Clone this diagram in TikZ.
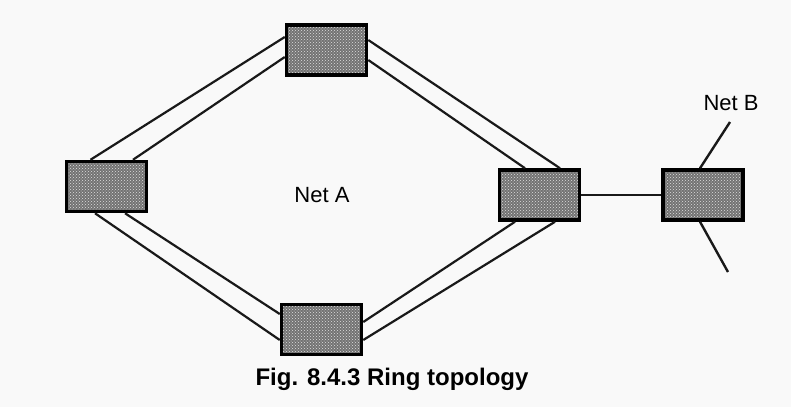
\documentclass[tikz,border=0pt]{standalone}
\usepackage{fontspec}
\setmainfont{Liberation Sans}
\usepackage{tikz}
\usetikzlibrary{positioning, patterns}

\begin{document}
\begin{tikzpicture}[
			x=1pt, y=-1pt,
			node distance=0.5cm and 0.5cm,
			netbox/.style={rectangle, draw=black, line width=3.5pt, minimum width=80pt, minimum height=50pt, inner sep=0pt, preaction={fill=black!55}, pattern=crosshatch dots, pattern color=gray!25},
			ring/.style={line width=2.2pt, black!90},
			link/.style={line width=2.4pt, black!90},
			netlabel/.style={anchor=base, font=\fontsize{22}{24}\selectfont},
			caption/.style={anchor=base, font=\fontsize{24}{26}\selectfont\bfseries}
			]
			\fill[gray!5] (0,0) rectangle (791,407);
			\useasboundingbox (0,0) rectangle (791,407);
			\node[netbox] (top) at (326.5,50) {};
			\node[netbox] (left) at (106.5,186.5) {};
			\node[netbox] (right) at (539.5,195) {};
			\node[netbox] (bottom) at (321.5,329.5) {};
			\node[netbox, right=80pt of right] (netb) {};
			\coordinate (netbup) at (730,122);
			\coordinate (netbdown) at (728,272);
			\draw[ring] ([xshift=-16pt]left.north) -- ([yshift=13pt]top.west);
			\draw[ring] ([xshift=26.5pt]left.north) -- ([yshift=-7pt]top.west);
			\draw[ring] ([yshift=10pt]top.east) -- ([xshift=20.5pt]right.north);
			\draw[ring] ([yshift=-10pt]top.east) -- ([xshift=-14.5pt]right.north);
			\draw[ring] ([xshift=-11.5pt]left.south) -- ([yshift=-10.5pt]bottom.west);
			\draw[ring] ([xshift=18.5pt]left.south) -- ([yshift=15.5pt]bottom.west);
			\draw[ring] ([yshift=7.5pt]bottom.east) -- ([xshift=-24.5pt]right.south);
			\draw[ring] ([yshift=-10.5pt]bottom.east) -- ([xshift=15.5pt]right.south);
			\draw[link] (right) -- (netb);
			\draw[link] ([xshift=-3pt]netb.north) -- (netbup);
			\draw[link] ([xshift=-3pt]netb.south) -- (netbdown);
			\node[netlabel] (neta) at (322,202) {Net A};
			\node[netlabel] (netbname) at (731,110) {Net B};
			\node[caption] (fig) at (392,385) {Fig. 8.4.3 Ring topology};
		\end{tikzpicture}
\end{document}
